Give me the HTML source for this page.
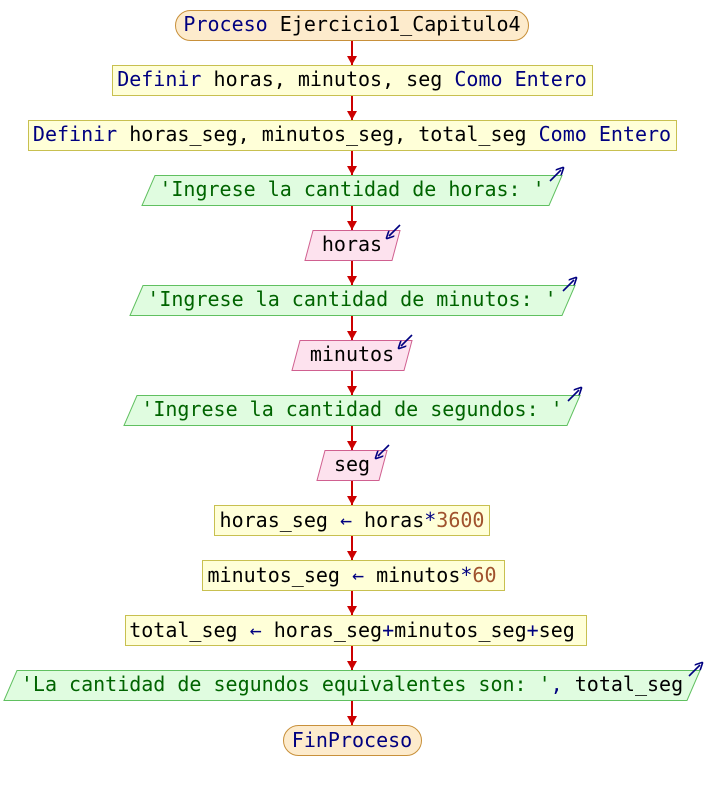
<!DOCTYPE html>
<html><head><meta charset="utf-8"><style>
html,body{margin:0;padding:0;background:#fff;}
text{font-family:"DejaVu Sans Mono","Liberation Mono",monospace;font-size:20px;}
.k{fill:#000080}.s{fill:#006400}.n{fill:#a0522d}.b{fill:#000}
</style></head><body>
<svg width="704" height="790" xmlns="http://www.w3.org/2000/svg">
<defs><marker id="ah" markerWidth="10" markerHeight="10" refX="9" refY="5" orient="auto" markerUnits="userSpaceOnUse"><path d="M0,0 L9,5 L0,10 z" fill="#cc0000"/></marker>
<marker id="bh" markerWidth="8" markerHeight="8" refX="4" refY="4" orient="auto" markerUnits="userSpaceOnUse"><path d="M0,0 L8,4 L0,8" fill="none" stroke="#000080" stroke-width="1.6"/></marker></defs>
<g stroke="#cc0000" stroke-width="2" marker-end="url(#ah)">
<line x1="352" y1="40" x2="352" y2="65"/><line x1="352" y1="95" x2="352" y2="120"/>
<line x1="352" y1="150" x2="352" y2="175"/><line x1="352" y1="205" x2="352" y2="230"/>
<line x1="352" y1="260" x2="352" y2="285"/><line x1="352" y1="315" x2="352" y2="340"/>
<line x1="352" y1="370" x2="352" y2="395"/><line x1="352" y1="425" x2="352" y2="450"/>
<line x1="352" y1="480" x2="352" y2="505"/><line x1="352" y1="535" x2="352" y2="560"/>
<line x1="352" y1="590" x2="352" y2="615"/><line x1="352" y1="645" x2="352" y2="670"/>
<line x1="352" y1="700" x2="352" y2="725"/>
</g>
<rect x="175.5" y="10.5" width="353" height="30" rx="15" fill="#fdebcc" stroke="#c8903a"/>
<text x="352" y="31" text-anchor="middle"><tspan class="k">Proceso</tspan><tspan class="b"> Ejercicio1_Capitulo4</tspan></text>
<rect x="112.5" y="65.5" width="480" height="30" fill="#ffffd8" stroke="#c8c050"/>
<text x="352" y="86" text-anchor="middle"><tspan class="k">Definir</tspan><tspan class="b"> horas, minutos, seg </tspan><tspan class="k">Como Entero</tspan></text>
<rect x="28.5" y="120.5" width="648" height="30" fill="#ffffd8" stroke="#c8c050"/>
<text x="352" y="141" text-anchor="middle"><tspan class="k">Definir</tspan><tspan class="b"> horas_seg, minutos_seg, total_seg </tspan><tspan class="k">Como Entero</tspan></text>
<g fill="#e0fce0" stroke="#60c060">
<polygon points="155,175.5 562,175.5 549,205.5 142,205.5"/>
<polygon points="143,285.5 575,285.5 562,315.5 130,315.5"/>
<polygon points="137,395.5 580,395.5 567,425.5 124,425.5"/>
<polygon points="17,670.5 700,670.5 687,700.5 4,700.5"/>
</g>
<text x="352" y="196" text-anchor="middle" class="s">'Ingrese la cantidad de horas: '</text>
<text x="352" y="306" text-anchor="middle" class="s">'Ingrese la cantidad de minutos: '</text>
<text x="352" y="416" text-anchor="middle" class="s">'Ingrese la cantidad de segundos: '</text>
<text x="352" y="691" text-anchor="middle"><tspan class="s">'La cantidad de segundos equivalentes son: '</tspan><tspan class="k">, </tspan><tspan class="b">total_seg</tspan></text>
<g fill="#fde2ee" stroke="#d06090">
<polygon points="313,230.5 400,230.5 392,260.5 305,260.5"/>
<polygon points="300,340.5 412,340.5 404,370.5 292,370.5"/>
<polygon points="325,450.5 387,450.5 379,480.5 317,480.5"/>
</g>
<text x="352" y="251" text-anchor="middle" class="b">horas</text>
<text x="352" y="361" text-anchor="middle" class="b">minutos</text>
<text x="352" y="471" text-anchor="middle" class="b">seg</text>
<g stroke="#000080" stroke-width="1.6" fill="none" marker-end="url(#bh)">
<line x1="550" y1="181" x2="561" y2="170"/><line x1="563" y1="291" x2="574" y2="280"/>
<line x1="568" y1="401" x2="579" y2="390"/><line x1="689" y1="676" x2="700" y2="665"/>
<line x1="400" y1="225" x2="389" y2="236"/><line x1="412" y1="335" x2="401" y2="346"/>
<line x1="389" y1="445" x2="378" y2="456"/>
</g>
<rect x="214.5" y="505.5" width="275" height="30" fill="#ffffd8" stroke="#c8c050"/>
<text x="352" y="527" text-anchor="middle"><tspan class="b">horas_seg </tspan><tspan class="k">←</tspan><tspan class="b"> horas</tspan><tspan class="k">*</tspan><tspan class="n">3600</tspan></text>
<rect x="202.5" y="560.5" width="302" height="30" fill="#ffffd8" stroke="#c8c050"/>
<text x="352" y="582" text-anchor="middle"><tspan class="b">minutos_seg </tspan><tspan class="k">←</tspan><tspan class="b"> minutos</tspan><tspan class="k">*</tspan><tspan class="n">60</tspan></text>
<rect x="125.5" y="615.5" width="461" height="30" fill="#ffffd8" stroke="#c8c050"/>
<text x="352" y="637" text-anchor="middle"><tspan class="b">total_seg </tspan><tspan class="k">←</tspan><tspan class="b"> horas_seg</tspan><tspan class="k">+</tspan><tspan class="b">minutos_seg</tspan><tspan class="k">+</tspan><tspan class="b">seg</tspan></text>
<rect x="283.5" y="725.5" width="138" height="30" rx="15" fill="#fdebcc" stroke="#c8903a"/>
<text x="352" y="747" text-anchor="middle" class="k">FinProceso</text>
</svg>
</body></html>
